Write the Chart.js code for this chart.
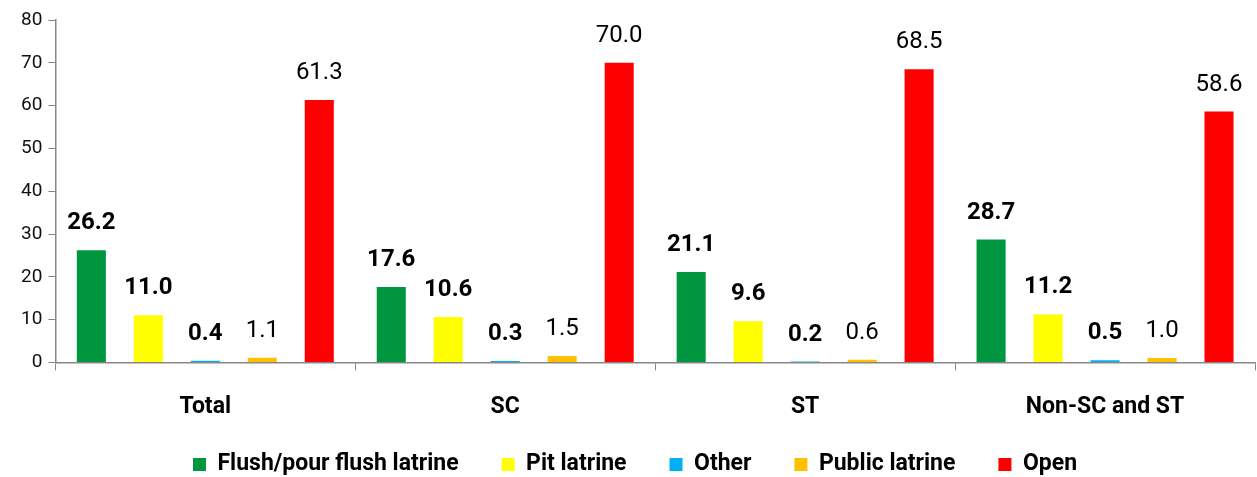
<!DOCTYPE html>
<html>
<head>
<meta charset="utf-8">
<script src="https://cdn.jsdelivr.net/npm/chart.js@4"></script>
<style>
  html, body { margin: 0; padding: 0; background: #fff; }
</style>
</head>
<body>
<canvas id="chart" width="1257" height="477"></canvas>
<script>
// --- данные ---
const categories = ["Total", "SC", "ST", "Non-SC and ST"];
const flush = [26.2, 17.6, 21.1, 28.7];
const pit = [11.0, 10.6, 9.6, 11.2];
const other = [0.4, 0.3, 0.2, 0.5];
const publicLatrine = [1.1, 1.5, 0.6, 1.0];
const open = [61.3, 70.0, 68.5, 58.6];
const yTicks = [0, 10, 20, 30, 40, 50, 60, 70, 80];

const FONT = "'Roboto', 'Liberation Sans', sans-serif";

// подписи над столбцами
const valueLabels = {
  id: "valueLabels",
  afterDatasetsDraw(chart) {
    const ctx = chart.ctx;
    ctx.save();
    ctx.fillStyle = "#000";
    ctx.textAlign = "center";
    ctx.textBaseline = "middle";
    chart.data.datasets.forEach((ds, i) => {
      const meta = chart.getDatasetMeta(i);
      ctx.font = (ds.boldLabel ? "bold " : "") + "24px " + FONT;
      meta.data.forEach((bar, j) => {
        ctx.fillText(ds.data[j].toFixed(1), bar.x, bar.y - 27);
      });
    });
    ctx.restore();
  },
};

// легенда: широкие промежутки по горизонтали, но без лишнего отступа сверху
const LEGEND_CUT = 43;
const LEGEND_SHIFT = -34;
const tightLegend = {
  id: "tightLegend",
  afterInit(chart) {
    const legend = chart.legend;
    const fit = legend.fit;
    const draw = legend.draw;
    legend.fit = function () {
      fit.call(this);
      this.height -= LEGEND_CUT;
    };
    legend.draw = function () {
      const top = this.top;
      this.top = top + LEGEND_SHIFT;
      draw.apply(this, arguments);
      this.top = top;
    };
  },
};

const makeSet = (label, data, color, bold) => ({
  label,
  data,
  backgroundColor: color,
  borderWidth: 0,
  barPercentage: 0.51,
  categoryPercentage: 0.95,
  boldLabel: bold,
});

new Chart(document.getElementById("chart"), {
  type: "bar",
  data: {
    labels: categories,
    datasets: [
      makeSet("Flush/pour flush latrine", flush, "#00963F", true),
      makeSet("Pit latrine", pit, "#FFFF00", true),
      makeSet("Other", other, "#00B0F0", true),
      makeSet("Public latrine", publicLatrine, "#FFC000", false),
      makeSet("Open", open, "#FF0000", false),
    ],
  },
  options: {
    responsive: false,
    animation: false,
    layout: { padding: { top: 20, right: 2, left: 15, bottom: 0 } },
    scales: {
      x: {
        grid: {
          offset: true,
          drawOnChartArea: false,
          color: "#888",
          tickLength: 8,
        },
        border: { color: "#888", width: 1.5 },
        ticks: {
          color: "#000",
          font: { family: FONT, size: 23, weight: "bold" },
          padding: 23,
        },
      },
      y: {
        min: 0,
        max: 80,
        afterBuildTicks: (axis) => {
          axis.ticks = yTicks.map((v) => ({ value: v }));
        },
        grid: {
          drawOnChartArea: false,
          color: "#888",
          tickLength: 7,
        },
        border: { color: "#888", width: 1.5 },
        ticks: {
          color: "#111",
          font: { family: FONT, size: 19 },
          padding: 6,
        },
      },
    },
    plugins: {
      tooltip: { enabled: false },
      legend: {
        position: "bottom",
        labels: {
          color: "#000",
          font: { family: FONT, size: 23, weight: "bold" },
          boxWidth: 13,
          boxHeight: 13,
          padding: 43,
          usePointStyle: true,
          pointStyle: "rect",
        },
      },
    },
  },
  plugins: [valueLabels, tightLegend],
});
</script>
</body>
</html>
